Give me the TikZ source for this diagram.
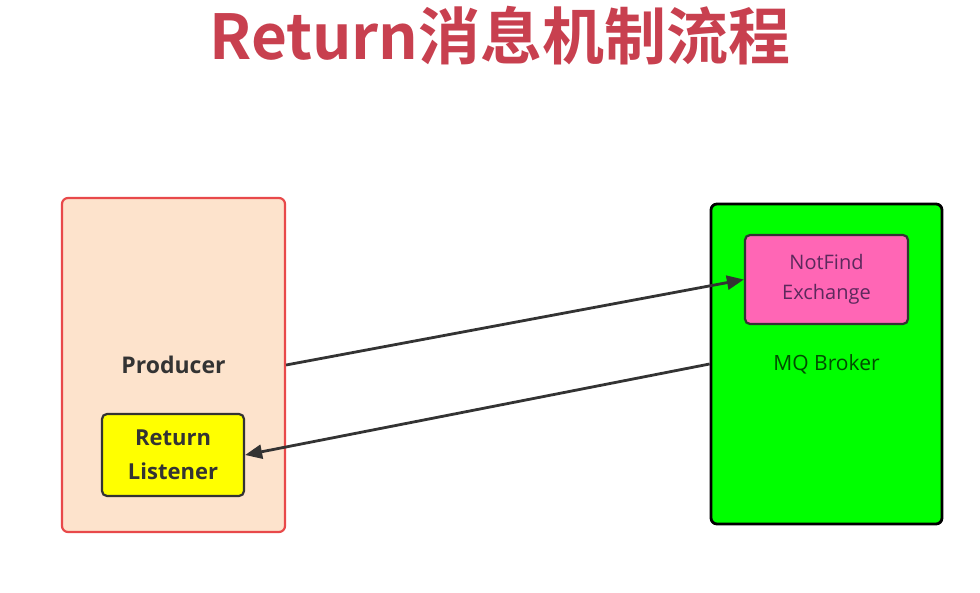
\documentclass[tikz,border=0pt]{standalone}
\usepackage{fontspec}
\setmainfont{Open Sans}
\newfontfamily\cjk{Noto Sans CJK SC}[BoldFont={* Bold}]
\usepackage{xcolor}
\usepackage{tikz}
\usetikzlibrary{
    arrows.meta,
    positioning
}
\definecolor{titlered}{HTML}{C8404F}
\definecolor{prodfill}{HTML}{FDE3CC}
\definecolor{prodline}{HTML}{E8494A}
\definecolor{lsnfill}{HTML}{FFFF00}
\definecolor{brkfill}{HTML}{00FF00}
\definecolor{exfill}{HTML}{FF66B5}
\definecolor{darkline}{HTML}{333333}
\tikzstyle{arrow}=[line width=2.8pt,-{Triangle[length=17pt,width=14pt]},draw=darkline]

\begin{document}
\begin{tikzpicture}[
    x=1pt,y=-1pt,
    proc/.style={
        rectangle,
        rounded corners=6pt,
        draw=prodline,
        fill=prodfill,
        line width=2.2pt,
        minimum width=223pt,
        minimum height=334pt,
        align=center,
        font=\bfseries\fontsize{23}{27}\selectfont,
        text=darkline
    },
    inner/.style={
        rectangle,
        rounded corners=5pt,
        draw=darkline,
        line width=2.2pt,
        align=center,
        text=darkline
    },
    broker/.style={
        rectangle,
        rounded corners=6pt,
        draw=black,
        fill=brkfill,
        line width=2.8pt,
        minimum width=231pt,
        minimum height=320pt,
        align=center,
        font=\fontsize{21}{25}\selectfont,
        text=black!70!green
    }
]
\useasboundingbox (0,0) rectangle (980,593);
\node[font=\cjk\bfseries\fontsize{62}{66}\selectfont,text=titlered] (title) at (500,36) {Return消息机制流程};

\node[proc] (producer) at (173.5,365) {Producer};
\node[inner,fill=lsnfill,minimum width=142pt,minimum height=82pt,
      font=\bfseries\fontsize{22}{34}\selectfont] (listener) at (173,455)
{Return\\Listener};

\node[broker] (mq) at (826.5,364) {\raisebox{-4pt}{MQ Broker}};
\node[inner,fill=exfill,minimum width=163pt,minimum height=89pt,
      font=\fontsize{20}{30}\selectfont,text=darkline!80!magenta] (notfind) at (826.5,279.5)
{NotFind\\Exchange};

\draw[arrow] (producer.east) -- (notfind.west);
\draw[arrow] (mq.west) -- (listener.east);
\end{tikzpicture}
\end{document}
